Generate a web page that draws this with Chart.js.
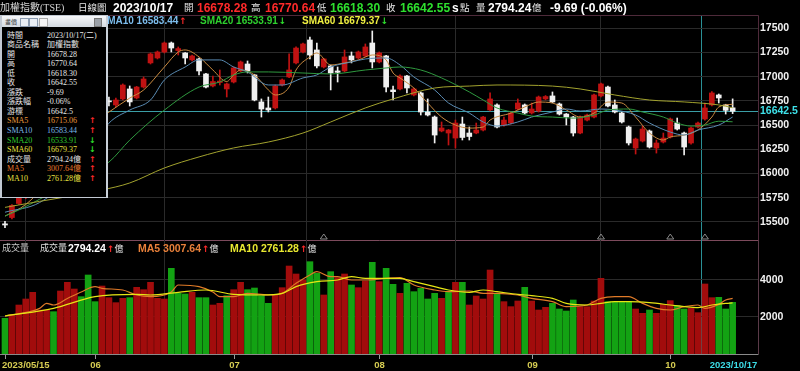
<!DOCTYPE html>
<html><head><meta charset="utf-8">
<script src="https://cdn.jsdelivr.net/npm/chart.js@4.4.0/dist/chart.umd.min.js"></script>
<style>
html,body{margin:0;padding:0;background:#000;}
#wrap{position:relative;width:800px;height:371px;overflow:hidden;background:#000;}
canvas{position:absolute;left:0;top:0;}
.t{position:absolute;white-space:nowrap;z-index:5;}
#info{position:absolute;left:0;top:15px;width:108px;height:183px;box-sizing:border-box;background:#000;border:1px solid #c2c9d3;border-left:2px solid #c2c9d3;border-right:2px solid #c9d0d9;z-index:10;}
#tbar{position:absolute;left:0;top:0;right:0;height:11px;background:linear-gradient(#f7f8fa,#d3d9e0);}
.ic{position:absolute;top:2px;width:7px;height:7px;border:1px solid #8b9bb0;background:#e9eef4;}
.row{position:absolute;white-space:nowrap;font:8px "Liberation Serif","Noto Sans CJK TC",serif;line-height:10px;}
</style></head>
<body><div id="wrap">
<canvas id="main" width="800" height="371"></canvas>
<canvas id="vol" width="800" height="371"></canvas>
<div id="info"><div id="tbar"><span style="position:absolute;left:3px;top:0;font:6px 'Noto Sans CJK TC';line-height:11px;color:#333">畫價</span><span class="ic" style="left:18px"></span><span class="ic" style="left:27px"></span><span class="ic" style="left:37px;border-color:#aaa;background:#f4f4f4"></span><span style="position:absolute;left:92px;top:2px;width:6px;height:7px;background:#9aa0a8;border:1px solid #777"></span></div></div>
</div>
<script>
// ---------- data ----------
const dates = ["2023/05/15","2023/05/16","2023/05/17","2023/05/18","2023/05/19","2023/05/22","2023/05/23","2023/05/24","2023/05/25","2023/05/26","2023/05/29","2023/05/30","2023/05/31",
"2023/06/01","2023/06/02","2023/06/05","2023/06/06","2023/06/07","2023/06/08","2023/06/09","2023/06/12","2023/06/13","2023/06/14","2023/06/15","2023/06/16","2023/06/19","2023/06/20","2023/06/21","2023/06/26","2023/06/27","2023/06/28","2023/06/29","2023/06/30",
"2023/07/03","2023/07/04","2023/07/05","2023/07/06","2023/07/07","2023/07/10","2023/07/11","2023/07/12","2023/07/13","2023/07/14","2023/07/17","2023/07/18","2023/07/19","2023/07/20","2023/07/21","2023/07/24","2023/07/25","2023/07/26","2023/07/27","2023/07/28","2023/07/31",
"2023/08/01","2023/08/02","2023/08/04","2023/08/07","2023/08/08","2023/08/09","2023/08/10","2023/08/11","2023/08/14","2023/08/15","2023/08/16","2023/08/17","2023/08/18","2023/08/21","2023/08/22","2023/08/23","2023/08/24","2023/08/25","2023/08/28","2023/08/29","2023/08/30","2023/08/31",
"2023/09/01","2023/09/04","2023/09/05","2023/09/06","2023/09/07","2023/09/08","2023/09/11","2023/09/12","2023/09/13","2023/09/14","2023/09/15","2023/09/18","2023/09/19","2023/09/20","2023/09/21","2023/09/22","2023/09/25","2023/09/26","2023/09/27","2023/09/28",
"2023/10/02","2023/10/03","2023/10/04","2023/10/05","2023/10/06","2023/10/11","2023/10/12","2023/10/13","2023/10/16","2023/10/17"];

const open = [15480,15545,15690,15770,15820,15930,16020,16170,16100,16300, 16560,16640,16600,16560,16500,16750,16708,16770,16873,16780,
16893,17142,17193,17255,17348,17270,17245,17173,17183,17028, 16904,16940,16873,16945,17059,17131,17018,16739,16677,16677,
16914,16997,17142,17255,17379,17276,17100,17111,17059,17059, 17214,17193,17214,17348,17152,17214,16863,16873,17007,16811,
16832,16635,16583,16439,16418,16366,16511,16418,16418,16449, 16656,16708,16501,16521,16666,16708,16625,16645,16770,16801,
16718,16614,16583,16418,16552,16583,16801,16893,16708,16625, 16480,16263,16335,16439,16263,16325,16377,16521,16418,16315,
16480,16563,16708,16811,16708,16678.28];
const high = [15505,15680,15775,15830,15910,16020,16160,16190,16200,16510, 16640,16660,16640,16600,16670,16790,16780,16925,16904,16900,
16997,17245,17265,17358,17358,17307,17250,17224,17193,17035, 17007,17069,16935,17100,17162,17162,17025,16770,16790,16914,
16976,17235,17307,17348,17410,17348,17190,17120,17100,17276, 17255,17265,17338,17472,17255,17220,16904,17018,17015,16883,
16842,16770,16594,16532,16455,16552,16583,16480,16521,16590, 16832,16720,16583,16635,16770,16718,16728,16800,16805,16842,
16728,16620,16590,16594,16614,16821,16935,16904,16759,16635, 16490,16366,16490,16449,16346,16418,16573,16573,16428,16480,
16532,16728,16845,16821,16715,16770.64];
const low = [15440,15530,15680,15740,15800,15910,16010,16060,16090,16290, 16540,16560,16540,16420,16490,16697,16687,16760,16697,16770,
16883,17131,17183,17245,17255,17224,17131,17162,17018,16885, 16895,16914,16790,16935,17049,17038,16750,16583,16635,16666,
16904,16990,17131,17245,17183,17090,17090,16863,16945,17050, 17142,17183,17204,17090,17142,16842,16759,16863,16832,16801,
16604,16594,16315,16430,16294,16263,16346,16346,16410,16440, 16645,16470,16490,16511,16656,16614,16614,16635,16760,16730,
16604,16501,16387,16410,16542,16573,16790,16687,16625,16521, 16294,16201,16325,16263,16211,16315,16366,16449,16191,16304,
16470,16552,16697,16728,16614,16618.30];
const close = [15468,15670,15760,15800,15900,16000,16150,16080,16190,16500, 16610,16590,16570,16450,16650,16740,16759,16914,16739,16893,
16976,17235,17255,17348,17296,17290,17193,17214,17059,16893, 16950,16955,16925,17090,17152,17059,16759,16666,16656,16904,
16966,17069,17296,17338,17224,17111,17183,17038,17045,17204, 17173,17255,17307,17152,17245,16893,16845,17007,16883,16873,
16635,16604,16397,16470,16449,16521,16372,16382,16449,16583, 16770,16480,16552,16625,16728,16625,16666,16790,16795,16739,
16614,16583,16418,16583,16604,16811,16925,16697,16635,16532, 16315,16356,16459,16273,16315,16366,16563,16459,16273,16470,
16521,16677,16832,16780,16652.24,16642.55];
const volume = [1930,2108,2648,2973,3333,2378,2378,2288,3405,3874, 3513,3099,4270,2829,3675,3045,2775,3009,3045,3603,
3477,3874,3009,2973,4630,3279,3243,3333,3045,3045, 2648,2738,3153,3477,3874,3477,3567,3153,2738,3189,
3585,4756,4324,4000,4990,4360,3189,4450,4126,4324, 3730,3585,3946,4955,3910,4630,3766,3279,3820,3369,
3550,2973,3279,3009,3333,3874,3874,2648,3135,2973, 4540,3279,2829,2559,2865,3603,2865,2378,2522,2738,
2432,2324,2919,2559,2559,2865,4090,2829,2829,2829, 2829,2432,2198,2378,2198,2684,2883,2612,2432,2468,
2234,3784,3045,3063,2432,2794.24];

// moving averages: [bar index, value]
const sma5 = [[0,15560],[3,15680],[6,15900],[9,16180],[12,16480],[15,16634],[18,16779],[20,16862],[23,17100],[25,17255],[26,17276],[28,17204],[30,17069],[32,16950],[33,17018],[34,17069],[36,17018],[38,16863],[39,16811],[41,16893],[42,17069],[44,17204],[45,17245],[47,17121],[49,17142],[51,17173],[53,17224],[55,17173],[56,17038],[57,16987],[59,16883],[61,16728],[63,16583],[65,16500],[67,16469],[69,16480],[70,16552],[73,16624],[75,16687],[77,16738],[79,16728],[81,16656],[83,16583],[85,16624],[87,16738],[89,16728],[91,16583],[93,16418],[95,16346],[96,16377],[98,16397],[100,16449],[102,16583],[103,16687],[105,16715.06]];
const sma10 = [[0,15600],[5,15700],[10,16000],[15,16520],[18,16655],[21,16759],[23,16966],[26,17100],[28,17173],[31,17173],[33,17100],[35,17049],[38,16914],[40,16914],[43,16987],[45,17018],[47,17100],[50,17152],[52,17183],[55,17193],[57,17121],[59,16997],[62,16863],[64,16728],[67,16624],[69,16532],[71,16490],[74,16532],[76,16583],[79,16635],[81,16666],[83,16645],[86,16666],[88,16656],[91,16604],[93,16521],[96,16428],[98,16397],[100,16449],[103,16500],[105,16583.44]];
const sma20 = [[0,15560],[2,15623],[8,15850],[15,16118],[18,16345],[23,16655],[28,16893],[31,16945],[33,17018],[35,17049],[38,17049],[43,17038],[47,17028],[52,17069],[55,17090],[57,17100],[60,17069],[63,16987],[67,16842],[69,16759],[71,16676],[74,16624],[76,16593],[79,16583],[82,16572],[85,16604],[87,16655],[90,16666],[92,16635],[95,16583],[97,16521],[99,16490],[101,16500],[103,16540],[105,16533.91]];
const sma60 = [[0,15650],[2,15675],[14,15830],[18,15902],[23,16057],[28,16171],[33,16264],[38,16325],[43,16418],[47,16532],[52,16677],[56,16770],[62,16883],[67,16903],[71,16914],[79,16903],[83,16873],[88,16811],[93,16759],[98,16739],[103,16708],[105,16679.37]];
const volMa5 = [[0,2054],[5,2468],[6,2739],[7,2648],[9,3000],[11,3351],[13,3640],[14,3550],[17,3460],[19,3189],[21,3099],[24,3351],[25,3730],[28,3640],[30,3351],[31,3099],[33,3099],[35,3279],[38,3189],[40,3279],[42,3820],[44,4270],[45,4450],[47,4180],[48,4180],[50,4000],[52,4000],[55,4090],[57,4126],[59,3730],[62,3460],[64,3369],[67,3405],[69,3279],[71,3279],[74,3189],[76,3009],[79,2829],[81,2559],[84,2648],[86,3009],[88,3099],[90,3099],[92,2739],[94,2468],[96,2378],[98,2559],[100,2648],[101,2468],[103,2684],[104,2919],[105,3007.64]];
const volMa10 = [[0,2054],[7,2468],[13,3099],[19,3225],[21,3189],[25,3333],[29,3460],[33,3225],[37,3189],[40,3279],[42,3640],[45,3910],[48,4000],[50,4180],[52,4090],[57,4090],[59,3910],[62,3640],[64,3460],[67,3333],[69,3460],[71,3369],[74,3225],[76,3153],[79,3009],[81,2739],[84,2648],[86,2739],[88,2829],[90,2829],[93,2775],[96,2648],[98,2559],[100,2504],[102,2648],[104,2740],[105,2761.28]];

const eventIdx = [46, 86, 96, 101];
const priceTicks = [15500,15750,16000,16250,16500,16750,17000,17250,17500];
const cursorPrice = 16642.5;
const volTicks = [2000, 4000];

// ---------- derived ----------
const L = dates.length - 1;
const monthStarts = dates.map((d,i)=>i).filter(i => i>0 && dates[i].slice(5,7)!==dates[i-1].slice(5,7));
const gridIdx = monthStarts.concat([L]);
const xMin = -0.72, xMax = 108.66;
const RED='#c01212', WHITE='#f0f0f0', VRED='#a20c0c', VGREEN='#13a213';
const candleColor = i => close[i] >= open[i] ? RED : WHITE;
const volColor = i => (i===0 ? close[0] >= open[0] : close[i] >= close[i-1]) ? VRED : VGREEN;
const last = a => a[a.length-1][1];
const dir = a => a[a.length-1][1] >= a[a.length-2][1];

function xAxis(){ return {
  type:'linear', min:xMin, max:xMax, offset:false, position:'bottom',
  afterBuildTicks(s){ s.ticks = gridIdx.map(v=>({value:v})); },
  afterFit(s){ s.height = 0; },
  ticks:{display:false},
  grid:{drawTicks:false, lineWidth:1, color:c => (c.tick && c.tick.value===L) ? '#2a9096' : '#2a2a2a'},
  border:{display:false}
};}
const lineDs = (pairs, color, w) => ({type:'line', data: pairs.map(p=>({x:p[0], y:p[1]})), borderColor:color, borderWidth:w, pointRadius:0, cubicInterpolationMode:'monotone', fill:false, order:0});
const yFont = {family:'"Liberation Sans", Arial, sans-serif', size:10.5, weight:'bold'};

const frameMain = {id:'frameMain', afterDraw(chart){
  const {ctx, chartArea:a, scales:{x}} = chart;
  ctx.save(); ctx.lineWidth=1;
  ctx.strokeStyle='#4e2a3a';
  ctx.beginPath(); ctx.moveTo(0, a.top+0.5); ctx.lineTo(a.right+0.5, a.top+0.5); ctx.lineTo(a.right+0.5, a.bottom); ctx.stroke();
  ctx.strokeStyle='#7c4a5c';
  ctx.beginPath(); ctx.moveTo(0, a.bottom+0.5); ctx.lineTo(a.right+0.5, a.bottom+0.5); ctx.stroke();
  ctx.strokeStyle='#8a8a8a';
  eventIdx.forEach(i => { const px = x.getPixelForValue(i); const b = a.bottom - 1;
    ctx.beginPath(); ctx.moveTo(px-3.5, b); ctx.lineTo(px, b-5); ctx.lineTo(px+3.5, b); ctx.closePath(); ctx.stroke(); });
  ctx.restore();
}};
const frameVol = {id:'frameVol', afterDraw(chart){
  const {ctx, chartArea:a, scales:{x}} = chart;
  ctx.save(); ctx.lineWidth=1;
  ctx.strokeStyle='#5a3a48';
  ctx.beginPath(); ctx.moveTo(a.right+0.5, a.top); ctx.lineTo(a.right+0.5, a.bottom); ctx.stroke();
  ctx.strokeStyle='#8a8a8a';
  ctx.beginPath(); ctx.moveTo(0, a.bottom+0.5); ctx.lineTo(a.right+0.5, a.bottom+0.5); ctx.stroke();
  [0].concat(gridIdx).forEach(i => {
    const px = Math.round(x.getPixelForValue(i)) + 0.5;
    let txt, align='center', color='#d6cc52';
    if (i===0) { txt = dates[0]; align='left'; }
    else if (i===L) { txt = dates[L]; color='#3cdce6'; }
    else txt = dates[i].slice(5,7);
    if (i!==L) { ctx.strokeStyle='#9a9a9a'; ctx.beginPath(); ctx.moveTo(px, a.bottom+1); ctx.lineTo(px, a.bottom+5); ctx.stroke(); }
    ctx.font = 'bold 9.5px "Liberation Sans", Arial, sans-serif'; ctx.fillStyle=color; ctx.textAlign=align; ctx.textBaseline='middle';
    ctx.fillText(txt, i===0 ? 2 : px, a.bottom + 11.5);
  });
  ctx.restore();
}};

new Chart(document.getElementById('main'), {
  type:'bar',
  data:{datasets:[
    lineDs(sma60, '#a2a22e', 1),
    lineDs(sma20, '#2f993f', 1),
    lineDs(sma10, '#5a8cb4', 1),
    lineDs(sma5, '#c98a40', 1),
    {type:'bar', data: dates.map((d,i)=>({x:i, y:[low[i], high[i]]})), backgroundColor: c => candleColor(c.dataIndex), barThickness:1, grouped:false, order:3},
    {type:'bar', data: dates.map((d,i)=>({x:i, y:[open[i], close[i]]})), backgroundColor: c => candleColor(c.dataIndex), barThickness:5, minBarLength:1, grouped:false, order:2}
  ]},
  options:{responsive:false, animation:false, events:[],
    layout:{padding:{top:15,bottom:131,left:0,right:0}},
    plugins:{legend:{display:false}, tooltip:{enabled:false}},
    scales:{
      x:xAxis(),
      y:{position:'right', min:15313, max:17637,
        afterBuildTicks(s){ s.ticks = priceTicks.concat([cursorPrice]).sort((a,b)=>a-b).map(v=>({value:v})); },
        afterFit(s){ s.width = 42; },
        ticks:{autoSkip:false, padding:2, font:yFont, color:c => (c.tick && c.tick.value===cursorPrice) ? '#3ee0e8' : '#f2f2f2', callback:v=>String(v)},
        grid:{drawTicks:false, color:c => (c.tick && c.tick.value===cursorPrice) ? '#3a9ea6' : '#2a2a2a'},
        border:{display:false}}
    }
  },
  plugins:[frameMain]
});

new Chart(document.getElementById('vol'), {
  type:'bar',
  data:{datasets:[
    lineDs(volMa10, '#e6e614', 1.2),
    lineDs(volMa5, '#e07a28', 1.2),
    {type:'bar', data: dates.map((d,i)=>({x:i, y:volume[i]})), backgroundColor: c => volColor(c.dataIndex), barThickness:6, grouped:false, order:2}
  ]},
  options:{responsive:false, animation:false, events:[],
    layout:{padding:{top:240,bottom:17,left:0,right:0}},
    plugins:{legend:{display:false}, tooltip:{enabled:false}},
    scales:{
      x:xAxis(),
      y:{position:'right', min:0, max:6162,
        afterBuildTicks(s){ s.ticks = volTicks.map(v=>({value:v})); },
        afterFit(s){ s.width = 42; },
        ticks:{autoSkip:false, padding:2, font:yFont, color:'#f2f2f2', callback:v=>String(v)},
        grid:{drawTicks:false, color:'#2a2a2a'},
        border:{display:false}}
    }
  },
  plugins:[frameVol]
});

// ---------- texts ----------
const wrap = document.getElementById('wrap');
function T(txt, x, cy, font, color, parent){
  const s = document.createElement('div'); s.className='t'; s.textContent = txt;
  s.style.font = font; s.style.lineHeight='14px'; s.style.left = x+'px'; s.style.top = (cy-7)+'px'; s.style.color = color;
  (parent||wrap).appendChild(s); return s;
}
const B12 = 'bold 12px "Liberation Sans", Arial, sans-serif';
const B10 = 'bold 10px "Liberation Sans", Arial, sans-serif';
const B105 = 'bold 10.5px "Liberation Sans", Arial, sans-serif';
const CJ = '9.5px "Liberation Serif","Noto Sans CJK TC",serif';
const CJ9 = '9px "Liberation Serif","Noto Sans CJK TC",serif';
const ARW = 'bold 9px "DejaVu Sans", sans-serif';
const UP='#ff2a2a', DN='#2ee02e';
const chg = close[L]-close[L-1];
const pct = chg/close[L-1]*100;

// header line 1
T('加權指數(TSE)', 0, 8, '10px "Liberation Serif","Noto Sans CJK TC",serif', '#d6d6d6');
T('日線圖', 78, 8, CJ, '#e6e6e6');
T(dates[L], 113, 8, B12, '#ffffff');
T('開', 184, 8, CJ, '#e6e6e6'); T(open[L].toFixed(2), 197, 8, B12, open[L]>=close[L-1]?UP:DN);
T('高', 251, 8, CJ, '#e6e6e6'); T(high[L].toFixed(2), 265, 8, B12, high[L]>=close[L-1]?UP:DN);
T('低', 317, 8, CJ, '#e6e6e6'); T(low[L].toFixed(2), 330, 8, B12, low[L]>=close[L-1]?UP:DN);
T('收', 386, 8, CJ, '#e6e6e6'); T(close[L].toFixed(2), 400, 8, B12, close[L]>=close[L-1]?UP:DN);
T('s', 452, 8, B12, '#ffffff'); T('點', 460, 8, CJ, '#e6e6e6');
T('量', 476, 8, CJ, '#e6e6e6'); T(volume[L].toFixed(2), 488, 8, B12, '#ffffff'); T('億', 532, 8, CJ, '#e6e6e6');
T(chg.toFixed(2)+' ('+pct.toFixed(2)+'%)', 550, 8, B12, '#ffffff');

// header line 2 (legend)
function legend(x, cy, label, val, color, up, font, unit){
  const s = T(label+' '+val, x, cy, font, color);
  const a = document.createElement('span'); a.textContent = up ? '↑' : '↓';
  a.style.font = ARW; a.style.color = up ? UP : DN; a.style.marginLeft='1px'; s.appendChild(a);
  if (unit){ const u=document.createElement('span'); u.textContent=unit; u.style.font=CJ9; u.style.color='#e6e6e6'; s.appendChild(u); }
  return s;
}
legend(8, 21, 'SMA5', last(sma5).toFixed(2), '#e8a040', dir(sma5), B10);
legend(100.5, 21, 'SMA10', last(sma10).toFixed(2), '#7cbcec', dir(sma10), B10);
legend(200, 21, 'SMA20', last(sma20).toFixed(2), '#2ed02e', dir(sma20), B10);
legend(302, 21, 'SMA60', last(sma60).toFixed(2), '#f0f040', dir(sma60), B10);

// volume header
T('成交量', 2, 248, CJ9, '#c8c8c8');
T('成交量', 40, 248, CJ9, '#e0e0e0');
legend(68, 248, '', volume[L].toFixed(2), '#ffffff', volume[L]>=volume[L-1], B105, '億').firstChild.textContent = volume[L].toFixed(2);
legend(138, 248, 'MA5', last(volMa5).toFixed(2), '#e8803a', dir(volMa5), B105, '億');
legend(230, 248, 'MA10', last(volMa10).toFixed(2), '#e8e830', dir(volMa10), B105, '億');

// info box
const wd = ['日','一','二','三','四','五','六'];
const dp = dates[L].split('/').map(Number);
const wday = wd[new Date(dp[0], dp[1]-1, dp[2]).getDay()];
const W='#e6e6e6';
const rows = [
  ['時間', dates[L]+'('+wday+')', W, null],
  ['商品名稱', '加權指數', W, null],
  ['開', open[L].toFixed(2), W, null],
  ['高', high[L].toFixed(2), W, null],
  ['低', low[L].toFixed(2), W, null],
  ['收', close[L].toFixed(2), W, null],
  ['漲跌', chg.toFixed(2), W, null],
  ['漲跌幅', pct.toFixed(2)+'%', W, null],
  ['游標', String(cursorPrice), W, null],
  ['SMA5', last(sma5).toFixed(2), '#e8983c', dir(sma5)],
  ['SMA10', last(sma10).toFixed(2), '#7cb8e8', dir(sma10)],
  ['SMA20', last(sma20).toFixed(2), '#2ec82e', dir(sma20)],
  ['SMA60', last(sma60).toFixed(2), '#e8e040', dir(sma60)],
  ['成交量', volume[L].toFixed(2)+'億', W, volume[L]>=volume[L-1]],
  ['MA5', last(volMa5).toFixed(2)+'億', '#e8782c', dir(volMa5)],
  ['MA10', last(volMa10).toFixed(2)+'億', '#e8e040', dir(volMa10)]
];
const info = document.getElementById('info');
rows.forEach((r,k) => {
  const top = 20.7 + 9.53*k - 5 - 1;
  const mk = (txt, x, color, font) => { const d=document.createElement('div'); d.className='row'; d.textContent=txt; d.style.left=x+'px'; d.style.top=top+'px'; d.style.color=color; if(font){d.style.font=font; d.style.lineHeight='10px';} info.appendChild(d); };
  mk(r[0], 5, r[2]);
  mk(r[1], 45, r[2]);
  if (r[3]!==null) mk(r[3]?'↑':'↓', 87, r[3]?UP:DN, 'bold 8px "DejaVu Sans"');
});
</script>
</body></html>
